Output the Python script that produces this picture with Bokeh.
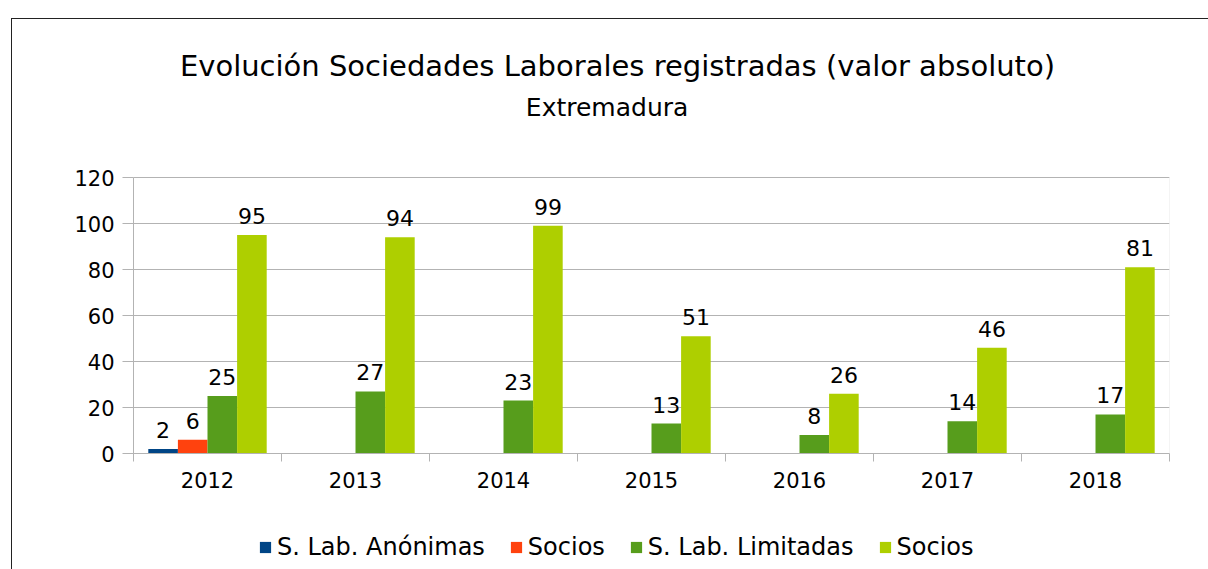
from bokeh.plotting import figure
from bokeh.layouts import column
from bokeh.models import (BoxAnnotation, ColumnDataSource, FixedTicker, Label, Legend,
                          LegendItem, Range1d)
from bokeh.core.properties import value
from bokeh.embed import file_html
from bokeh.resources import INLINE

# ---- data ----
years = ["2012", "2013", "2014", "2015", "2016", "2017", "2018"]
sl_anonimas = [2, None, None, None, None, None, None]
socios_anonimas = [6, None, None, None, None, None, None]
sl_limitadas = [25, 27, 23, 13, 8, 14, 17]
socios_limitadas = [95, 94, 99, 51, 26, 46, 81]
series_names = ["S. Lab. Anónimas", "Socios", "S. Lab. Limitadas", "Socios"]
series_colors = ["#004586", "#ff420e", "#579d1c", "#aecf00"]
y_ticks = [0, 20, 40, 60, 80, 100, 120]
title_text = "Evolución Sociedades Laborales registradas (valor absoluto)"
subtitle_text = "Extremadura"

FONT = "DejaVu Sans"
GRID = "#b3b3b3"
PX_PER_UNIT = 2.3          # vertical scale of the value axis
FRAME_H = 434              # frame reaches up into the title area
y_top = FRAME_H / PX_PER_UNIT

p = figure(frame_width=1036, frame_height=FRAME_H,
           min_border_left=121, min_border_top=0,
           min_border_right=39, min_border_bottom=60,
           x_range=Range1d(0, len(years)), y_range=Range1d(0, y_top),
           output_backend="svg", toolbar_location=None)
p.background_fill_color = "white"
p.border_fill_color = "white"
p.outline_line_color = None

# plot-area outline (value range only)
p.add_layout(BoxAnnotation(left=0, right=len(years), bottom=0, top=y_ticks[-1],
                           fill_alpha=0, line_color=GRID, line_width=1))

offsets = [-0.3, -0.1, 0.1, 0.3]
all_series = [sl_anonimas, socios_anonimas, sl_limitadas, socios_limitadas]
sources = []
for vals, name, col, off in zip(all_series, series_names, series_colors, offsets):
    xs, ys, labels = [], [], []
    for i, v in enumerate(vals):
        if v is None:
            continue
        xs.append(i + 0.5 + off)
        ys.append(v)
        labels.append(str(v))
    src = ColumnDataSource(dict(x=xs, top=ys, label=labels))
    sources.append(src)
    p.vbar(x="x", top="top", width=0.2, bottom=0, source=src,
           fill_color=col, line_color=None)
    p.text(x="x", y="top", text="label", source=src, text_align="center",
           text_baseline="alphabetic", y_offset=-19,
           text_font=value(FONT), text_font_size="22px", text_color="black")

# x axis: labels at centres, tick marks between categories
p.xaxis.ticker = FixedTicker(ticks=[i + 0.5 for i in range(len(years))],
                             minor_ticks=list(range(len(years) + 1)))
p.xaxis.major_label_overrides = {i + 0.5: y for i, y in enumerate(years)}
p.xaxis.major_tick_line_color = None
p.xaxis.minor_tick_line_color = GRID
p.xaxis.minor_tick_out = 8
p.xaxis.minor_tick_in = 0
p.xaxis.axis_line_color = GRID
p.xaxis.major_label_text_font = FONT
p.xaxis.major_label_text_font_size = "21px"
p.xaxis.major_label_text_color = "black"
p.xaxis.major_label_standoff = 10
p.xgrid.visible = False

# y axis
p.yaxis.ticker = FixedTicker(ticks=y_ticks)
p.yaxis.bounds = (y_ticks[0], y_ticks[-1])
p.yaxis.major_tick_out = 11
p.yaxis.major_tick_in = 0
p.yaxis.major_tick_line_color = GRID
p.yaxis.minor_tick_line_color = None
p.yaxis.axis_line_color = GRID
p.yaxis.major_label_text_font = FONT
p.yaxis.major_label_text_font_size = "21px"
p.yaxis.major_label_text_color = "black"
p.yaxis.major_label_standoff = 8
p.ygrid.grid_line_color = GRID

# titles
p.add_layout(Label(x=3.27, y=168.3, text=title_text, text_align="center",
                   text_baseline="alphabetic", text_font=FONT,
                   text_font_size="29px", text_color="black"))
p.add_layout(Label(x=3.2, y=150.5, text=subtitle_text, text_align="center",
                   text_baseline="alphabetic", text_font=FONT,
                   text_font_size="25px", text_color="black"))

# legend strip below the chart (its bars lie outside its visible range)
pl = figure(frame_width=1196, frame_height=56, min_border=0,
            x_range=Range1d(0, 1), y_range=Range1d(1000, 1001),
            output_backend="svg", toolbar_location=None)
pl.axis.visible = False
pl.grid.visible = False
pl.outline_line_color = None
pl.background_fill_color = "white"
pl.border_fill_color = "white"
items = []
for name, col, src in zip(series_names, series_colors, sources):
    r = pl.vbar(x="x", top="top", width=0.2, bottom=0, source=src,
                fill_color=col, line_color=None)
    items.append(LegendItem(label=name, renderers=[r]))
legend = Legend(items=items, orientation="horizontal", location=(246, 8),
                border_line_color=None, background_fill_alpha=0,
                label_text_font=FONT, label_text_font_size="24px",
                label_text_color="black",
                glyph_width=14, glyph_height=14, label_standoff=5,
                spacing=24, padding=0, margin=0)
pl.add_layout(legend)

layout = column(p, pl, spacing=0,
                styles={"margin-left": "11px", "margin-top": "18px",
                        "border-left": "1px solid #222",
                        "border-top": "1px solid #222"})

open("out.html", "w").write(file_html(layout, INLINE))
